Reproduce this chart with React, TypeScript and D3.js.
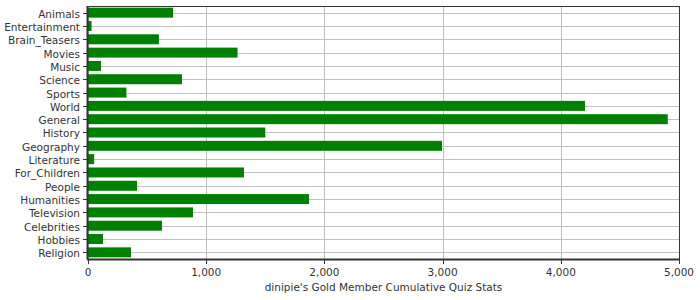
import React from "react";
import * as d3 from "d3";

const categories = [
  "Animals", "Entertainment", "Brain_Teasers", "Movies", "Music", "Science", "Sports",
  "World", "General", "History", "Geography", "Literature", "For_Children", "People",
  "Humanities", "Television", "Celebrities", "Hobbies", "Religion",
];
const values = [
  720, 30, 600, 1265, 110, 795, 325,
  4205, 4905, 1500, 2995, 52, 1320, 415,
  1870, 888, 626, 127, 364,
];
const xTicks = [0, 1000, 2000, 3000, 4000, 5000];
const xTitle = "dinipie's Gold Member Cumulative Quiz Stats";

const W = 700;
const H = 300;
const M = { left: 88, right: 21, top: 6, bottom: 41 };

export default function App() {
  const iw = W - M.left - M.right;
  const ih = H - M.top - M.bottom;
  const x = d3.scaleLinear().domain([0, 5000]).range([0, iw]);
  const y = d3.scaleBand().domain(categories).range([0, ih]).paddingInner(0.25).paddingOuter(0.125);
  const fmt = d3.format(",");
  const font = "'DejaVu Sans', sans-serif";
  const ink = "#333";

  return (
    <svg width={W} height={H} style={{ position: "absolute", left: 0, top: 0, background: "#fff" }}>
      <g transform={`translate(${M.left},${M.top})`} fontFamily={font} fontSize={10.5} fill={ink}>
        {/* grid */}
        {categories.map((c) => {
          const cy = Math.round(y(c)! + y.bandwidth() / 2) + 0.5;
          return <line key={"gy" + c} x1={0} x2={iw} y1={cy} y2={cy} stroke="#c0c0c0" />;
        })}
        {xTicks.map((t) => (
          <line key={"gx" + t} x1={Math.round(x(t)) + 0.5} x2={Math.round(x(t)) + 0.5} y1={0} y2={ih} stroke="#c0c0c0" />
        ))}
        {/* bars */}
        {categories.map((c, i) => (
          <rect key={"b" + c} x={0} y={y(c)} width={x(values[i])} height={y.bandwidth()} fill="#008000" />
        ))}
        {/* frame */}
        <line x1={0.5} x2={iw + 0.5} y1={0.5} y2={0.5} stroke={ink} />
        <line x1={iw + 0.5} x2={iw + 0.5} y1={0} y2={ih} stroke={ink} />
        <line x1={-0.5} x2={-0.5} y1={0} y2={ih + 0.5} stroke={ink} strokeWidth={2} />
        <line x1={-1} x2={iw + 1} y1={ih + 0.5} y2={ih + 0.5} stroke={ink} strokeWidth={2} />
        {/* y axis */}
        {categories.map((c) => {
          const cy = Math.round(y(c)! + y.bandwidth() / 2) + 0.5;
          return (
            <g key={"yl" + c}>
              <line x1={-5} x2={-1} y1={cy} y2={cy} stroke={ink} />
              <text x={-8} y={cy} textAnchor="end" dominantBaseline="central">{c}</text>
            </g>
          );
        })}
        {/* x axis */}
        {xTicks.map((t) => (
          <g key={"xl" + t}>
            <line x1={Math.round(x(t)) + 0.5} x2={Math.round(x(t)) + 0.5} y1={ih} y2={ih + 5} stroke={ink} />
            <text x={x(t)} y={ih + 17} textAnchor="middle">{fmt(t)}</text>
          </g>
        ))}
        <text x={iw / 2} y={ih + 32} textAnchor="middle">{xTitle}</text>
      </g>
    </svg>
  );
}
